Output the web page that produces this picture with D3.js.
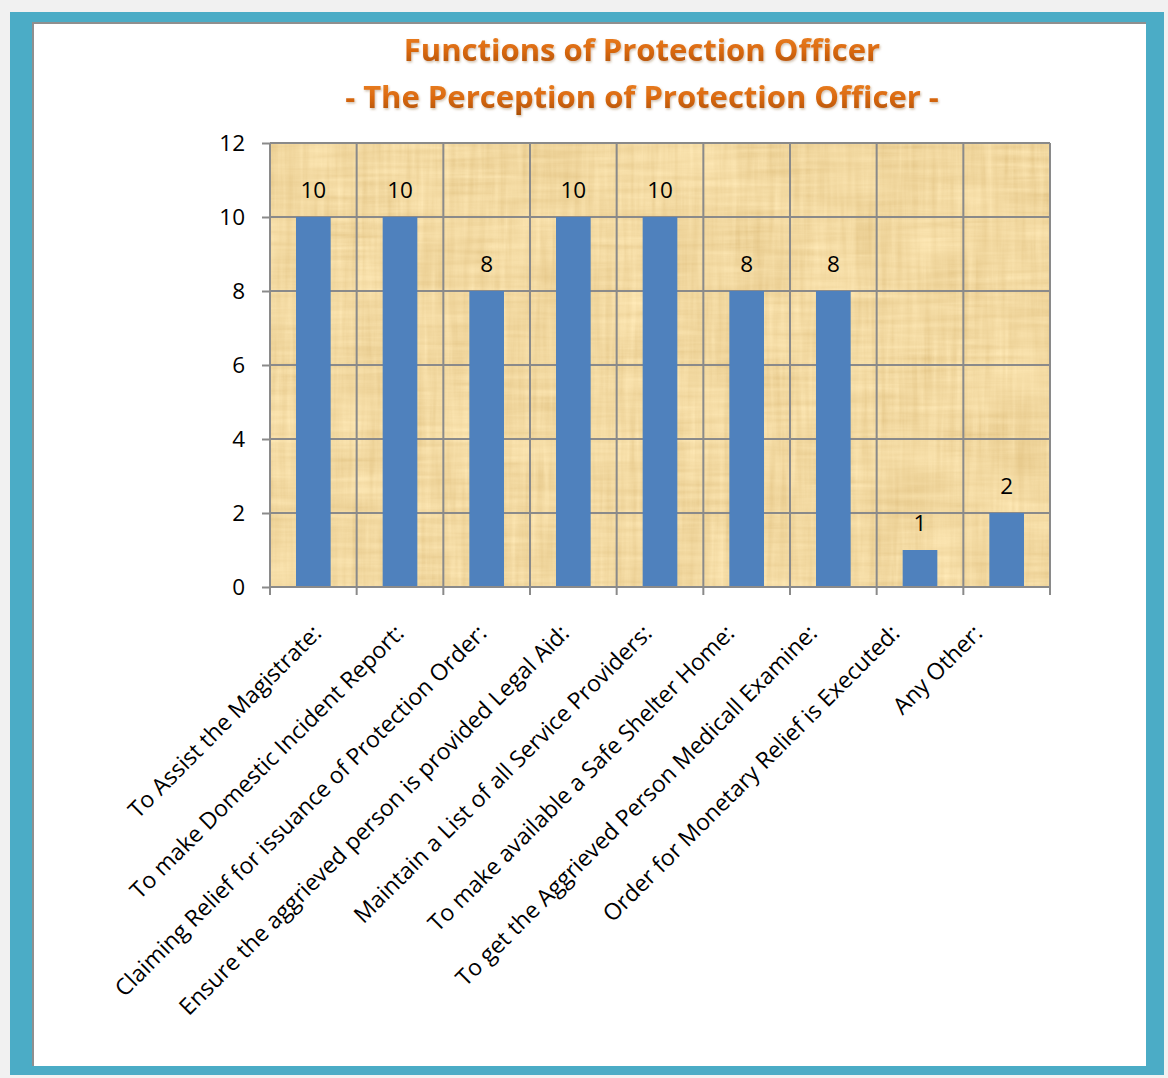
<!DOCTYPE html>
<html>
<head>
<meta charset="utf-8">
<script src="https://cdn.jsdelivr.net/npm/d3@7"></script>
<style>
  html, body { margin: 0; padding: 0; background: #f1f1f1; }
  svg { display: block; }
</style>
</head>
<body>
<script>
// Survey results: functions of the Protection Officer as perceived by officers
const categories = [
  "To Assist the Magistrate:",
  "To make Domestic Incident Report:",
  "Claiming Relief for issuance of Protection Order:",
  "Ensure the aggrieved person is provided Legal Aid:",
  "Maintain a List of all Service Providers:",
  "To make available a Safe Shelter Home:",
  "To get the Aggrieved Person Medicall Examine:",
  "Order for Monetary Relief is Executed:",
  "Any Other:"
];
const counts = [10, 10, 8, 10, 10, 8, 8, 1, 2];
const yTickValues = [0, 2, 4, 6, 8, 10, 12];
const titleLines = [
  "Functions of Protection Officer",
  "- The Perception of Protection Officer -"
];

const W = 1168, H = 1078;
const plot = { left: 270, right: 1050, top: 143, bottom: 587 };
const font = "'Open Sans', Lato, sans-serif";

const svg = d3.select("body").append("svg")
  .attr("width", W).attr("height", H);

const defs = svg.append("defs");

// papyrus-like fibre texture for the plot background
const pf = defs.append("filter").attr("id", "papyrus")
  .attr("x", 0).attr("y", 0).attr("width", 1).attr("height", 1)
  .attr("color-interpolation-filters", "sRGB");
pf.append("feTurbulence").attr("type", "fractalNoise")
  .attr("baseFrequency", "0.01 0.16").attr("numOctaves", 3).attr("seed", 4).attr("result", "h");
pf.append("feTurbulence").attr("type", "fractalNoise")
  .attr("baseFrequency", "0.16 0.01").attr("numOctaves", 3).attr("seed", 9).attr("result", "v");
pf.append("feTurbulence").attr("type", "fractalNoise")
  .attr("baseFrequency", "0.015").attr("numOctaves", 2).attr("seed", 2).attr("result", "b");
pf.append("feComposite").attr("in", "h").attr("in2", "v")
  .attr("operator", "arithmetic").attr("k2", 0.5).attr("k3", 0.5).attr("result", "hv");
pf.append("feComposite").attr("in", "hv").attr("in2", "b")
  .attr("operator", "arithmetic").attr("k2", 0.7).attr("k3", 0.3).attr("result", "n");
pf.append("feColorMatrix").attr("in", "n").attr("type", "matrix")
  .attr("values", [
    "0.18 0 0 0 0.86",
    "0.24 0 0 0 0.73",
    "0.32 0 0 0 0.47",
    "0 0 0 0 1"
  ].join(" "));

// orange gradient for the title lettering
const tg = defs.append("linearGradient").attr("id", "titleFill")
  .attr("x1", 0).attr("y1", 0).attr("x2", 0).attr("y2", 1);
tg.append("stop").attr("offset", "0%").attr("stop-color", "#f28a2a");
tg.append("stop").attr("offset", "55%").attr("stop-color", "#d9680f");
tg.append("stop").attr("offset", "100%").attr("stop-color", "#a34c05");

const ts = defs.append("filter").attr("id", "titleShadow")
  .attr("x", "-5%").attr("y", "-30%").attr("width", "110%").attr("height", "160%");
ts.append("feDropShadow").attr("dx", 1).attr("dy", 1.5)
  .attr("stdDeviation", 1.2).attr("flood-color", "#7a4a20").attr("flood-opacity", 0.35);

// frame: teal border around a white panel
svg.append("rect").attr("x", 10).attr("y", 12).attr("width", 1154).attr("height", 1063)
  .attr("fill", "#4bacc6");
svg.append("rect").attr("x", 33).attr("y", 22).attr("width", 1113).attr("height", 1044)
  .attr("fill", "#ffffff");
svg.append("path")
  .attr("d", "M33,1066V23H1146")
  .attr("fill", "none").attr("stroke", "#8f8f8f").attr("stroke-width", 2);

// title
svg.append("g").selectAll("text").data(titleLines).join("text")
  .attr("x", 642)
  .attr("y", (d, i) => 61 + i * 47)
  .attr("text-anchor", "middle")
  .attr("font-family", font)
  .attr("font-weight", "bold")
  .attr("font-size", 31)
  .attr("fill", "url(#titleFill)")
  .attr("filter", "url(#titleShadow)")
  .text(d => d);

// scales
const x = d3.scaleBand().domain(categories).range([plot.left, plot.right]).padding(0);
const y = d3.scaleLinear().domain([0, 12]).range([plot.bottom, plot.top]);
const labelPos = d3.scalePoint().domain(categories).range([311, 972]);

// plot background
svg.append("rect")
  .attr("x", plot.left).attr("y", plot.top)
  .attr("width", plot.right - plot.left).attr("height", plot.bottom - plot.top)
  .attr("fill", "#ecd49c")
  .attr("filter", "url(#papyrus)");

// gridlines
const grid = svg.append("g").attr("stroke", "#8a8a8a").attr("stroke-width", 2);
grid.selectAll("line.h").data(yTickValues.filter(v => v > 0)).join("line")
  .attr("class", "h")
  .attr("x1", plot.left).attr("x2", plot.right)
  .attr("y1", d => y(d)).attr("y2", d => y(d));
grid.selectAll("line.v").data(categories).join("line")
  .attr("class", "v")
  .attr("x1", d => x(d) + x.bandwidth()).attr("x2", d => x(d) + x.bandwidth())
  .attr("y1", plot.top).attr("y2", plot.bottom);

// bars
const barW = x.bandwidth() * 0.4;
svg.append("g").selectAll("rect").data(categories).join("rect")
  .attr("x", d => x(d) + (x.bandwidth() - barW) / 2)
  .attr("width", barW)
  .attr("y", (d, i) => y(counts[i]))
  .attr("height", (d, i) => y(0) - y(counts[i]))
  .attr("fill", "#4f81bd");

// value labels
svg.append("g").selectAll("text").data(categories).join("text")
  .attr("x", d => x(d) + x.bandwidth() / 2)
  .attr("y", (d, i) => y(counts[i]) - 19)
  .attr("text-anchor", "middle")
  .attr("font-family", font)
  .attr("font-size", 22.5)
  .attr("fill", "#000")
  .text((d, i) => counts[i]);

// y axis
const yAxis = svg.append("g")
  .attr("transform", `translate(${plot.left},0)`)
  .call(d3.axisLeft(y).tickValues(yTickValues).tickSize(8).tickPadding(17).tickFormat(d3.format("d")));
yAxis.select(".domain").attr("stroke", "#8a8a8a").attr("stroke-width", 2).attr("d", `M0,${plot.bottom}V${plot.top}`);
yAxis.selectAll(".tick line").attr("stroke", "#8a8a8a").attr("stroke-width", 2);
yAxis.selectAll(".tick text")
  .attr("font-family", font).attr("font-size", 22.5).attr("fill", "#000");

// x axis: ticks at category boundaries
const xAxis = svg.append("g").attr("transform", `translate(0,${plot.bottom})`);
xAxis.append("line")
  .attr("x1", plot.left).attr("x2", plot.right)
  .attr("stroke", "#8a8a8a").attr("stroke-width", 2);
const bounds = [x(categories[0])].concat(categories.map(d => x(d) + x.bandwidth()));
xAxis.selectAll("line.t").data(bounds).join("line")
  .attr("class", "t")
  .attr("x1", d => d).attr("x2", d => d)
  .attr("y1", 0).attr("y2", 8)
  .attr("stroke", "#8a8a8a").attr("stroke-width", 2);

// rotated category labels
xAxis.selectAll("text").data(categories).join("text")
  .attr("transform", d => `translate(${labelPos(d)},36) rotate(-45)`)
  .attr("text-anchor", "end")
  .attr("dy", "0.72em")
  .attr("font-family", font)
  .attr("font-size", 23)
  .attr("fill", "#000")
  .text(d => d);
</script>
</body>
</html>
